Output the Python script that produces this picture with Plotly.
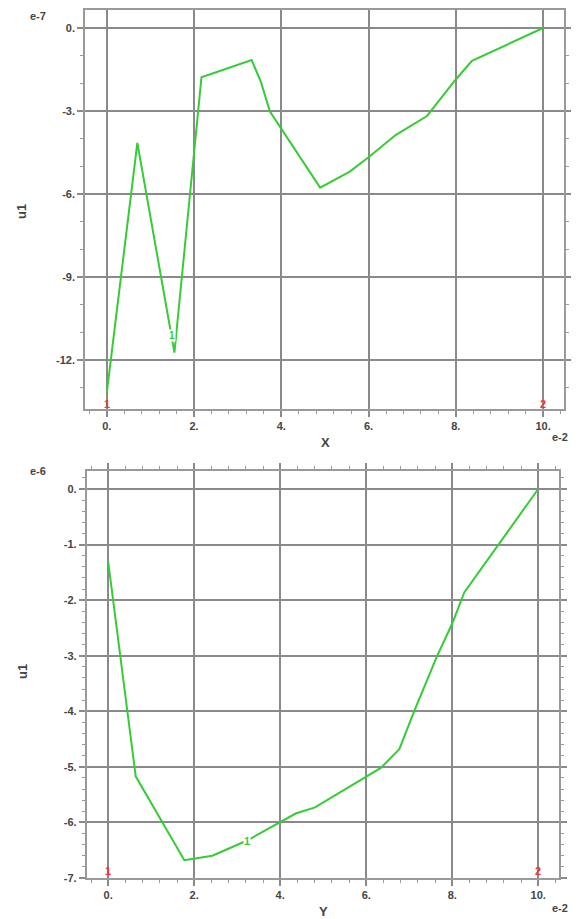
import plotly.graph_objects as go

# top panel: u1 along X (values in e-7, positions in e-2)
x_pos = [0.0, 0.70, 1.55, 2.17, 3.32, 3.53, 3.74, 4.89, 5.57, 6.0, 6.62, 7.34, 7.99, 8.37, 10.0]
u1_x = [-13.18, -4.15, -11.73, -1.78, -1.16, -1.94, -3.02, -5.77, -5.19, -4.67, -3.87, -3.18, -1.88, -1.19, 0.0]

# bottom panel: u1 along Y (values in e-6, positions in e-2)
y_pos = [0.0, 0.64, 1.77, 2.42, 3.22, 4.0, 4.36, 4.81, 6.01, 6.34, 6.77, 7.13, 7.64, 8.0, 8.28, 10.0]
u1_y = [-1.31, -5.17, -6.68, -6.60, -6.33, -6.0, -5.84, -5.73, -5.17, -5.02, -4.68, -3.97, -3.02, -2.42, -1.86, 0.0]

x_ticks = [0, 2, 4, 6, 8, 10]
top_yticks = [0, -3, -6, -9, -12]
bot_yticks = [0, -1, -2, -3, -4, -5, -6, -7]

GREEN = "#35cc35"
GRID = "#8a8a8a"
INK = "#444444"
FONT = "Liberation Sans, Arial, sans-serif"

# page body has an 8px margin, so the figure is sized to fit inside it
PAD, W, H = 8, 571, 911


def px(x0, x1):
    return [(x0 - PAD) / W, (x1 - PAD) / W]


def py(top, bottom):
    return [1 - (bottom - PAD) / H, 1 - (top - PAD) / H]


def lbl(v):
    return f"<b>{v:g}.</b>"


def axis(domain, anchor, rng, ticks, minor):
    return dict(
        domain=domain, anchor=anchor, range=rng, automargin=False,
        tickvals=ticks, ticktext=[lbl(t) for t in ticks],
        showgrid=True, gridcolor=GRID, gridwidth=1.6,
        zeroline=False, showline=True, linecolor="#9a9a9a", linewidth=1.6,
        mirror="allticks", ticks="outside", ticklen=6, tickwidth=1.6,
        tickcolor=GRID,
        minor=dict(dtick=minor, tick0=0, ticks="outside", ticklen=3,
                   tickwidth=1, tickcolor="#9a9a9a", showgrid=False),
        tickfont=dict(family=FONT, size=11, color=INK),
    )


fig = go.Figure()
fig.add_trace(go.Scatter(x=x_pos, y=u1_x, mode="lines", xaxis="x", yaxis="y",
                         line=dict(color=GREEN, width=2), showlegend=False))
fig.add_trace(go.Scatter(x=y_pos, y=u1_y, mode="lines", xaxis="x2", yaxis="y2",
                         line=dict(color=GREEN, width=2), showlegend=False))

fig.update_layout(
    width=W, height=H, margin=dict(l=0, r=0, t=0, b=0),
    paper_bgcolor="white", plot_bgcolor="white",
    font=dict(family=FONT, size=11, color=INK),
    xaxis=axis(px(85, 564), "y", [-0.5, 10.48], x_ticks, 0.4),
    yaxis=axis(py(10, 409), "x", [-13.77, 0.65], top_yticks, 1),
    xaxis2=axis(px(86.7, 559.3), "y2", [-0.5, 10.49], x_ticks, 0.4),
    yaxis2=axis(py(470.7, 878), "x2", [-7.0, 0.33], bot_yticks, 0.2),
)

notes = [
    dict(text="e-7", x=38, y=16),
    dict(text="e-2", x=560, y=437),
    dict(text="e-6", x=38, y=471),
    dict(text="e-2", x=560, y=908),
    dict(text="X", x=325, y=442, size=13),
    dict(text="Y", x=323, y=911, size=13),
    dict(text="u1", x=22, y=212, size=13, angle=-90),
    dict(text="u1", x=22, y=672, size=13, angle=-90),
]
for n in notes:
    fig.add_annotation(text=f"<b>{n['text']}</b>", xref="paper", yref="paper",
                       x=(n["x"] - PAD) / W, y=1 - (n["y"] - PAD) / H,
                       xanchor="center", yanchor="middle",
                       showarrow=False, textangle=n.get("angle", 0),
                       font=dict(family=FONT, size=n.get("size", 11), color=INK))

# end-point markers and curve labels
for xa, ya, xv, yv, txt, col in [
    ("x", "y", 0, -13.6, "1", "#ff3030"), ("x", "y", 10, -13.6, "2", "#ff3030"),
    ("x2", "y2", 0, -6.87, "1", "#ff3030"), ("x2", "y2", 10, -6.87, "2", "#ff3030"),
]:
    fig.add_annotation(text=f"<b>{txt}</b>", xref=xa, yref=ya, x=xv, y=yv,
                       xanchor="center", yanchor="middle",
                       showarrow=False, font=dict(family=FONT, size=11, color=col))
fig.add_annotation(text="<b>1</b>", xref="x", yref="y", x=1.5, y=-11.1,
                   showarrow=False, bgcolor="white", borderpad=0,
                   font=dict(family=FONT, size=10, color=GREEN))
fig.add_annotation(text="<b>1</b>", xref="x2", yref="y2", x=3.22, y=-6.33,
                   showarrow=False, bgcolor="white", borderpad=0,
                   font=dict(family=FONT, size=11, color=GREEN))

fig.write_html("out.html")
